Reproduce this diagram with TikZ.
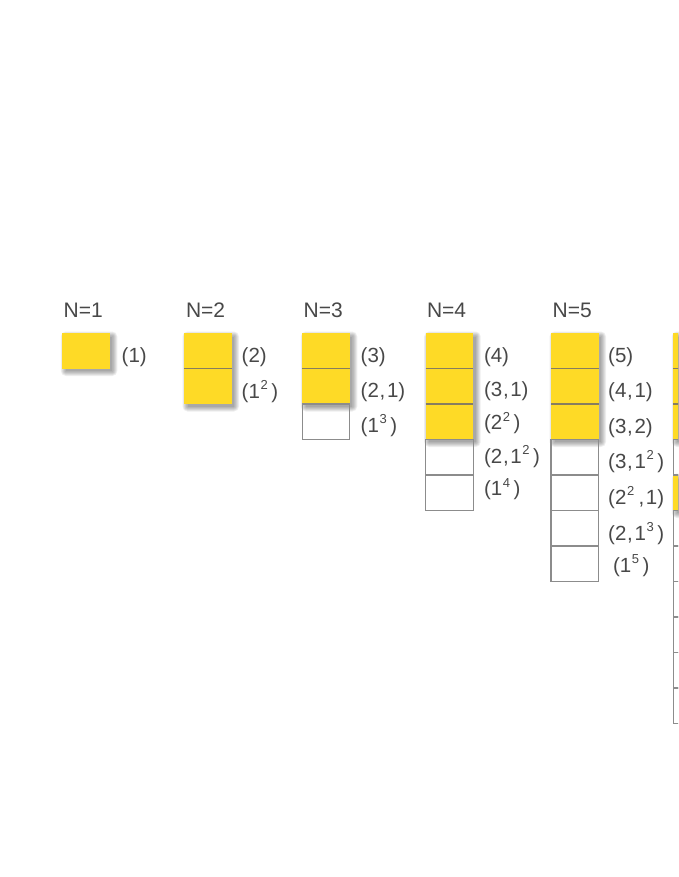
\documentclass[tikz,border=0pt]{standalone}
\usepackage{fontspec}
\setmainfont{Liberation Sans}
\definecolor{ycol}{RGB}{254,218,38}
\definecolor{tcol}{RGB}{72,72,72}
\definecolor{wline}{RGB}{140,140,140}
\definecolor{sepc}{RGB}{135,125,95}
\newcommand\supr[1]{\kern0.6pt\raisebox{8.5pt}{\fontsize{13}{14}\selectfont #1}\kern3.5pt}
\newcommand\cma{\kern0.8pt,\kern1.6pt}
\pgfdeclarelayer{bgl}
\pgfdeclarelayer{shad}
\pgfsetlayers{bgl,shad,main}
\begin{document}
\begin{tikzpicture}[x=1pt,y=-1pt,
  cellbox/.style={anchor=north west,minimum width=47.5pt,minimum height=35.5pt,inner sep=0pt,outer sep=0pt},
  ybox/.style={cellbox,fill=ycol},
  wbox/.style={cellbox,draw=wline,line width=1.2pt},
  sepline/.style={draw=sepc,line width=1.2pt},
  shadlayer/.style={fill=black,fill opacity=0.065},
  lbl/.style={anchor=base west,inner sep=0pt,text=tcol,font=\fontsize{20.5}{24}\selectfont},
  hdr/.style={anchor=base west,inner sep=0pt,text=tcol,font=\fontsize{21}{24}\selectfont}]
\useasboundingbox (0,0) rectangle (678,877);
\begin{pgfonlayer}{bgl}
\fill[white] (0,0) rectangle (678,877);
\end{pgfonlayer}
\clip (0,0) rectangle (678,877);
% boxes
\foreach \c/\x/\n/\ny in {1/62.3/1/1, 2/184/2/2, 3/302.3/3/2, 4/425.7/5/3, 5/551/7/3, 6/673.3/11/3} {
  \foreach \r in {1,...,\n} {
    \pgfmathsetmacro\yy{333+35.5*(\r-1)}
    \pgfmathtruncatemacro\isy{((\r<=\ny) || (\c==6 && \r==5)) ? 1 : 0}
    \ifnum\isy=1
      \node[ybox] (b\c-\r) at (\x,\yy) {};
    \else
      \node[wbox] (b\c-\r) at (\x,\yy) {};
    \fi
  }
}
% soft shadows of the yellow groups
\begin{pgfonlayer}{shad}
\foreach \c/\ny in {1/1,2/2,3/2,4/3,5/3,6/3,6/5} {
  \pgfmathtruncatemacro\top{\c==6 && \ny==5 ? 5 : 1}
  \foreach \s in {0,1,2,3,4,5} {
    \fill[shadlayer,rounded corners=\s pt]
      ([xshift=3-\s+0.5 pt,yshift=-3+\s-0.5 pt]b\c-\top.north west) rectangle
      ([xshift=3+\s-0.5 pt,yshift=-3-\s+0.5 pt]b\c-\ny.south east);
  }
}
\end{pgfonlayer}
% separators between yellow rows
\foreach \b in {b2-2,b3-2,b4-2,b4-3,b5-2,b5-3,b6-2,b6-3} {
  \draw[sepline] (\b.north west) -- (\b.north east);
}
\draw[draw=wline,line width=1.2pt] (b6-5.north west) -- (b6-5.north east);
% headers
\node[hdr] (h1) at (63.5,317.7) {N=1};
\node[hdr] (h2) at (185.8,317.7) {N=2};
\node[hdr] (h3) at (303.5,317.7) {N=3};
\node[hdr] (h4) at (426.8,317.7) {N=4};
\node[hdr] (h5) at (552.5,317.7) {N=5};
% labels
\node[lbl] (l1-1) at (121.5,362.3) {(1)};
\node[lbl] (l2-1) at (241.5,362.5) {(2)};
\node[lbl] (l2-2) at (241.5,398) {(1\supr{2})};
\node[lbl] (l3-1) at (360.5,362.5) {(3)};
\node[lbl] (l3-2) at (360.5,397.5) {(2\cma 1)};
\node[lbl] (l3-3) at (360.5,432) {(1\supr{3})};
\node[lbl] (l4-1) at (483.8,362.3) {(4)};
\node[lbl] (l4-2) at (483.8,396.5) {(3\cma 1)};
\node[lbl] (l4-3) at (483.8,429.5) {(2\supr{2})};
\node[lbl] (l4-4) at (483.8,463.2) {(2\cma 1\supr{2})};
\node[lbl] (l4-5) at (483.8,495.5) {(1\supr{4})};
\node[lbl] (l5-1) at (608,362.3) {(5)};
\node[lbl] (l5-2) at (608,397.5) {(4\cma 1)};
\node[lbl] (l5-3) at (608,433) {(3\cma 2)};
\node[lbl] (l5-4) at (608,468.3) {(3\cma 1\supr{2})};
\node[lbl] (l5-5) at (608,504) {(2\supr{2}\cma 1)};
\node[lbl] (l5-6) at (608,540) {(2\cma 1\supr{3})};
\node[lbl] (l5-7) at (612.8,572) {(1\supr{5})};
\end{tikzpicture}
\end{document}
